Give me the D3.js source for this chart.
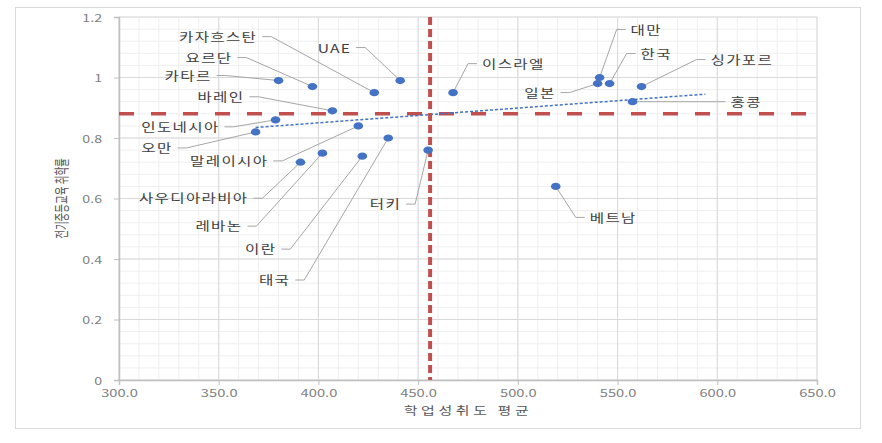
<!DOCTYPE html>
<html>
<head>
<meta charset="utf-8">
<script src="https://cdn.jsdelivr.net/npm/d3@7"></script>
<style>
  html, body { margin: 0; padding: 0; background: #ffffff; }
  svg { display: block; }
  text { font-family: "Noto Sans CJK KR", "Noto Sans", sans-serif; }
</style>
</head>
<body>
<svg id="chart" width="882" height="443"></svg>
<script>
// ---------------- DATA ----------------
const countries = ["카타르","요르단","카자흐스탄","UAE","바레인","인도네시아","오만","말레이시아",
  "이스라엘","터키","태국","이란","레바논","사우디아라비아","베트남","대만","일본","한국","싱가포르","홍콩"];
const achievement = [380, 397, 428, 441, 407, 378.5, 368.5, 420, 467.5, 455, 435, 422, 402, 391, 519, 541, 540, 546, 562, 557.5];
const enrollment  = [0.99, 0.97, 0.95, 0.99, 0.89, 0.86, 0.82, 0.84, 0.95, 0.76, 0.80, 0.74, 0.75, 0.72, 0.64, 1.00, 0.98, 0.98, 0.97, 0.92];
const xTicks = [300, 350, 400, 450, 500, 550, 600, 650];
const yTicks = [0, 0.2, 0.4, 0.6, 0.8, 1.0, 1.2];
const xMeanRef = 456;   // vertical reference (평균)
const yMeanRef = 0.88;  // horizontal reference
const trendForward = 32; // trendline forecast forward
const xTitle = "학업성취도 평균";
const yTitle = "전기중등교육 취학률";

// label placement (pixel offsets from the point; side = where the label sits)
const labelOffsets = {
  "카자흐스탄": {dx:-117, dy:-56, side:"left"},
  "요르단": {dx:-80, dy:-29, side:"left"},
  "카타르": {dx:-67, dy:-5, side:"left"},
  "바레인": {dx:-88, dy:-14, side:"left"},
  "인도네시아": {dx:-56, dy:7, side:"left"},
  "오만": {dx:-83, dy:16, side:"left"},
  "말레이시아": {dx:-90, dy:35, side:"left"},
  "사우디아라비아": {dx:-52, dy:36, side:"left"},
  "레바논": {dx:-80, dy:73, side:"left"},
  "이란": {dx:-86, dy:93, side:"left"},
  "태국": {dx:-98, dy:142, side:"left"},
  "터키": {dx:-27, dy:54, side:"left"},
  "UAE": {dx:-49, dy:-33, side:"left"},
  "일본": {dx:-42, dy:9, side:"left"},
  "이스라엘": {dx:29, dy:-29, side:"right"},
  "대만": {dx:31, dy:-48, side:"right"},
  "한국": {dx:31, dy:-30, side:"right"},
  "싱가포르": {dx:69, dy:-27, side:"right"},
  "홍콩": {dx:98, dy:0, side:"right"},
  "베트남": {dx:34, dy:31, side:"right"}
};

// ---------------- LAYOUT ----------------
const svg = d3.select("#chart");
const plot = {left:119, right:817, top:17, bottom:380};
const x = d3.scaleLinear().domain([300, 650]).range([plot.left, plot.right]);
const y = d3.scaleLinear().domain([0, 1.2]).range([plot.bottom, plot.top]);
const SX = 1.3; // horizontal glyph stretch

// outer chart border
svg.append("rect").attr("x", 15.5).attr("y", 7.5).attr("width", 845).attr("height", 421)
  .attr("fill", "#fff").attr("stroke", "#d9d9d9").attr("stroke-width", 1);

// minor grid
const g = svg.append("g");
const xMinor = d3.range(300, 651, 10);
const yMinor = d3.range(0, 1.2001, 0.04);
g.selectAll(".xminor").data(xMinor).enter().append("line")
  .attr("x1", d => x(d)).attr("x2", d => x(d)).attr("y1", plot.top).attr("y2", plot.bottom)
  .attr("stroke", "#efefef").attr("stroke-width", 1);
g.selectAll(".yminor").data(yMinor).enter().append("line")
  .attr("x1", plot.left).attr("x2", plot.right).attr("y1", d => y(d)).attr("y2", d => y(d))
  .attr("stroke", "#efefef").attr("stroke-width", 1);

// major grid
g.selectAll(".xmajor").data(xTicks).enter().append("line")
  .attr("x1", d => x(d)).attr("x2", d => x(d)).attr("y1", plot.top).attr("y2", plot.bottom)
  .attr("stroke", "#d9d9d9").attr("stroke-width", 1);
g.selectAll(".ymajor").data(yTicks).enter().append("line")
  .attr("x1", plot.left).attr("x2", plot.right).attr("y1", d => y(d)).attr("y2", d => y(d))
  .attr("stroke", "#d9d9d9").attr("stroke-width", 1);

// axes
const xAxis = d3.axisBottom(x).tickValues(xTicks).tickSize(5).tickFormat(d3.format(".1f"));
const yAxis = d3.axisLeft(y).tickValues(yTicks).tickSize(5).tickFormat(d => d === 0 ? "0" : (d === 1 ? "1" : d3.format(".1f")(d)));
const gx = svg.append("g").attr("transform", `translate(0,${plot.bottom})`).call(xAxis);
const gy = svg.append("g").attr("transform", `translate(${plot.left},0)`).call(yAxis);
[gx, gy].forEach(a => {
  a.select(".domain").attr("stroke", "#bfbfbf").attr("stroke-width", 1.5);
  a.selectAll(".tick line").attr("stroke", "#bfbfbf");
  a.selectAll(".tick text").attr("fill", "#7f7f7f").attr("font-size", 10.5)
    .attr("font-family", "'Liberation Sans', Arial, sans-serif");
});
gx.selectAll(".tick text").each(function() {
  const t = d3.select(this);
  t.attr("y", null).attr("dy", null)
   .attr("transform", `translate(0,12) scale(${SX + 0.1},1)`).attr("dominant-baseline", "central");
});
gy.selectAll(".tick text").each(function() {
  const t = d3.select(this);
  t.attr("x", null).attr("dy", null)
   .attr("transform", `translate(-17,0) scale(${SX + 0.05},1)`).attr("dominant-baseline", "central");
});

// axis titles
svg.append("text").text(xTitle)
  .attr("transform", `translate(${(plot.left+plot.right)/2},410) scale(${SX},1)`)
  .attr("text-anchor", "middle").attr("dominant-baseline", "central")
  .attr("font-size", 11.5).attr("letter-spacing", 2.8).attr("fill", "#595959");
svg.append("text").text(yTitle)
  .attr("transform", `translate(60,${(plot.top+plot.bottom)/2}) rotate(-90) scale(1,1.6)`)
  .attr("text-anchor", "middle").attr("dominant-baseline", "central")
  .attr("font-size", 9.5).attr("fill", "#595959");

// data table
const pts = countries.map((c, i) => ({name: c, ax: achievement[i], en: enrollment[i]}));

// trendline (linear regression from data)
const mx = d3.mean(pts, d => d.ax), my = d3.mean(pts, d => d.en);
const slope = d3.sum(pts, d => (d.ax - mx) * (d.en - my)) / d3.sum(pts, d => (d.ax - mx) ** 2);
const icpt = my - slope * mx;
const tx0 = d3.min(pts, d => d.ax), tx1 = d3.max(pts, d => d.ax) + trendForward;

// reference lines
svg.append("line")
  .attr("x1", plot.left).attr("x2", plot.right).attr("y1", y(yMeanRef)).attr("y2", y(yMeanRef))
  .attr("stroke", "#c0504d").attr("stroke-width", 3.5).attr("stroke-dasharray", "15,17");

svg.append("line")
  .attr("x1", x(tx0)).attr("y1", y(icpt + slope * tx0))
  .attr("x2", x(tx1)).attr("y2", y(icpt + slope * tx1))
  .attr("stroke", "#4472c4").attr("stroke-width", 1.5).attr("stroke-dasharray", "3,2");

svg.append("line")
  .attr("x1", x(xMeanRef)).attr("x2", x(xMeanRef)).attr("y1", plot.top).attr("y2", plot.bottom)
  .attr("stroke", "#c0504d").attr("stroke-width", 4).attr("stroke-dasharray", "8,4");

// labels + leader lines
const lab = svg.append("g");
pts.forEach(p => {
  const o = labelOffsets[p.name];
  const px = x(p.ax), py = y(p.en);
  const lx = px + o.dx, ly = py + o.dy;
  lab.append("text").text(p.name)
    .attr("transform", `translate(${lx},${ly}) scale(${SX},1)`)
    .attr("text-anchor", o.side === "left" ? "end" : "start")
    .attr("dominant-baseline", "central")
    .attr("font-size", 12).attr("letter-spacing", 1).attr("fill", "#404040");
  const dir = o.side === "left" ? 1 : -1;
  const sx0 = lx + dir * 5, sx1 = lx + dir * 14;
  lab.insert("path", "text")
    .attr("d", d3.line()([[sx0, ly], [sx1, ly], [px, py]]))
    .attr("fill", "none").attr("stroke", "#a6a6a6").attr("stroke-width", 1);
});

// markers
svg.append("g").selectAll("ellipse").data(pts).enter().append("ellipse")
  .attr("cx", d => x(d.ax)).attr("cy", d => y(d.en)).attr("rx", 4.8).attr("ry", 3.6)
  .attr("fill", "#4472c4");
</script>
</body>
</html>
